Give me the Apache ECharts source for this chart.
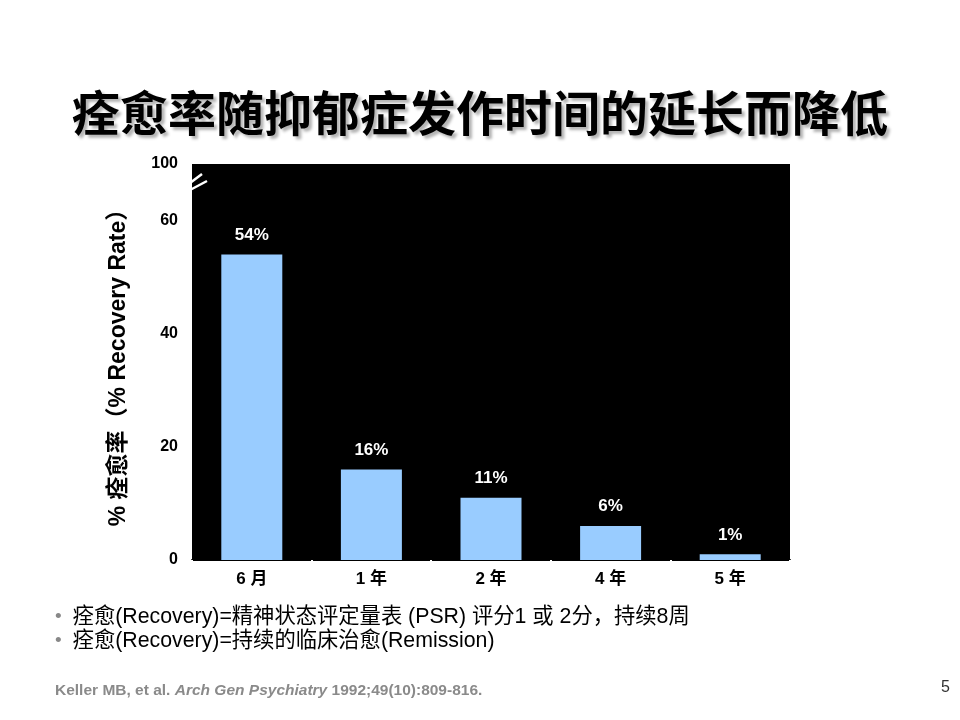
<!DOCTYPE html>
<html>
<head>
<meta charset="utf-8">
<script src="https://cdn.jsdelivr.net/npm/echarts@6/dist/echarts.min.js"></script>
<style>
  html, body { margin: 0; padding: 0; background: #fff; }
  #canvas { width: 960px; height: 720px; }
</style>
</head>
<body>
<div id="canvas"></div>
<script>
var categories = ['6 月', '1 年', '2 年', '4 年', '5 年'];
var rates = [54, 16, 11, 6, 1];
// the top of the axis is broken: 70 on the scale is printed as 100
var axisTop = 70;
var axisTopLabel = '100';

var FONT = '"Liberation Sans", Arial, "Noto Sans CJK SC", sans-serif';

var myChart = echarts.init(document.getElementById('canvas'));

var bulletRich = {
    d: { fontFamily: FONT, fontSize: 19, fill: '#888', padding: [0, 11, 0, 3] },
    t: { fontFamily: FONT, fontSize: 21.3, fill: '#000' }
};

var option = {
    backgroundColor: '#ffffff',
    animation: false,
    title: {
        text: '痊愈率随抑郁症发作时间的延长而降低',
        left: 'center',
        top: 89,
        textStyle: {
            fontFamily: FONT,
            fontSize: 48,
            fontWeight: 'bold',
            color: '#000',
            textShadowColor: 'rgba(0,0,0,0.3)',
            textShadowOffsetX: 3,
            textShadowOffsetY: 3,
            textShadowBlur: 3
        }
    },
    grid: {
        left: 192,
        top: 164,
        width: 598,
        height: 396,
        show: true,
        backgroundColor: '#000',
        borderWidth: 0
    },
    xAxis: {
        type: 'category',
        data: categories,
        axisLine: { lineStyle: { color: '#000', width: 2 } },
        axisTick: { show: true, length: 3, lineStyle: { color: '#fff', width: 2 } },
        axisLabel: {
            margin: 11,
            fontFamily: FONT,
            fontSize: 17,
            fontWeight: 'bold',
            color: '#000'
        }
    },
    yAxis: {
        type: 'value',
        min: 0,
        max: axisTop,
        interval: 10,
        name: '% 痊愈率（% Recovery Rate）',
        nameLocation: 'middle',
        nameGap: 62,
        nameRotate: 90,
        nameTextStyle: {
            fontFamily: FONT,
            fontSize: 23,
            fontWeight: 'bold',
            color: '#000'
        },
        axisLine: { show: false },
        axisTick: { show: false },
        splitLine: { show: false },
        axisLabel: {
            margin: 14,
            fontFamily: FONT,
            fontSize: 16,
            fontWeight: 'bold',
            color: '#000',
            formatter: function (v) {
                if (v === axisTop) return axisTopLabel;
                return v % 20 === 0 ? String(v) : '';
            }
        }
    },
    series: [{
        type: 'bar',
        data: rates,
        barWidth: '51%',
        itemStyle: { color: '#99ccff' },
        label: {
            show: true,
            position: 'top',
            distance: 11,
            formatter: '{c}%',
            fontFamily: FONT,
            fontSize: 17,
            fontWeight: 'bold',
            color: '#fff'
        }
    }],
    graphic: [
        // axis break marks
        { type: 'line', shape: { x1: 190, y1: 183, x2: 202, y2: 174 }, style: { stroke: '#fff', lineWidth: 2.5 } },
        { type: 'line', shape: { x1: 190, y1: 190, x2: 207, y2: 181 }, style: { stroke: '#fff', lineWidth: 2.5 } },
        {
            type: 'text', left: 55, top: 606,
            style: {
                text: '{d|•}{t|痊愈(Recovery)=精神状态评定量表 (PSR) 评分1 或 2分，持续8周}',
                rich: bulletRich
            }
        },
        {
            type: 'text', left: 55, top: 630,
            style: {
                text: '{d|•}{t|痊愈(Recovery)=持续的临床治愈(Remission)}',
                rich: bulletRich
            }
        },
        {
            type: 'text', left: 55, top: 683,
            style: {
                text: '{b|Keller MB, et al. }{i|Arch Gen Psychiatry}{b| 1992;49(10):809-816.}',
                rich: {
                    b: { fontFamily: '"Liberation Sans Narrow", ' + FONT, fontSize: 15.5, fontWeight: 'bold', fill: '#8a8a8a' },
                    i: { fontFamily: '"Liberation Sans Narrow", ' + FONT, fontSize: 15.5, fontWeight: 'bold', fontStyle: 'italic', fill: '#8a8a8a' }
                }
            }
        },
        {
            type: 'text', left: 941, top: 680,
            style: { text: '5', fontFamily: FONT, fontSize: 16, fill: '#333' }
        }
    ]
};
myChart.setOption(option);
</script>
</body>
</html>
